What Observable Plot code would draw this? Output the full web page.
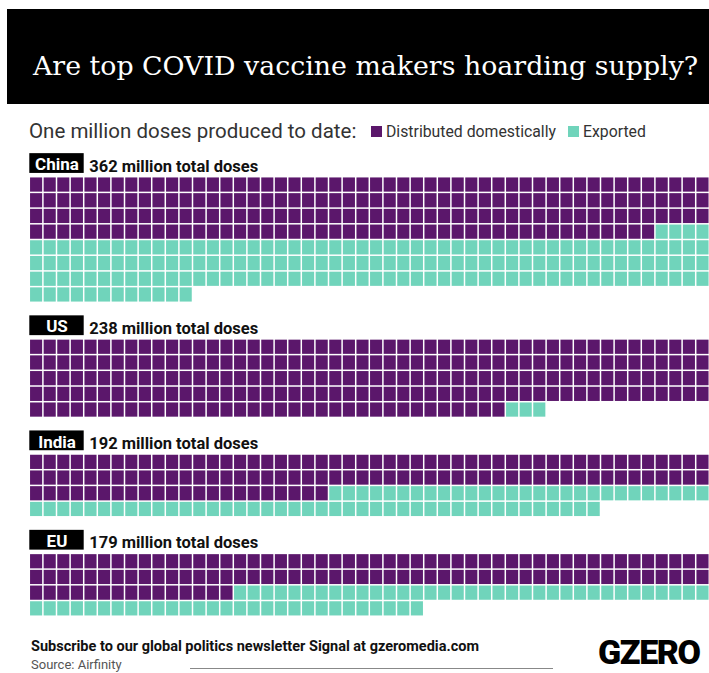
<!DOCTYPE html>
<html>
<head>
<meta charset="utf-8">
<script src="https://cdn.jsdelivr.net/npm/d3@7"></script>
<script src="https://cdn.jsdelivr.net/npm/@observablehq/plot@0.6"></script>
<style>
  html, body { margin: 0; padding: 0; background: #fff; }
  body { width: 709px; height: 673px; overflow: hidden; position: relative; font-family: Roboto, "Open Sans", sans-serif; }
  #header { position: absolute; left: 7px; top: 9px; width: 702px; height: 95px; background: #000; }
  #title { position: absolute; left: 26px; top: 41px; color: #fff; font-family: "DejaVu Serif", serif; font-size: 26.8px; line-height: normal; white-space: nowrap; }
  #subtitle { position: absolute; left: 29px; top: 118.5px; color: #333; font-size: 20.5px; line-height: normal; white-space: nowrap; }
  #legend { position: absolute; left: 371px; top: 115px; }
  #chart { position: absolute; left: 0; top: 150px; }
  #subscribe { position: absolute; left: 31px; top: 639px; font-size: 14.5px; font-weight: 700; color: #111; white-space: nowrap; line-height: 1.1; }
  #source { position: absolute; left: 31px; top: 657.5px; font-size: 13px; color: #555; white-space: nowrap; line-height: 1.1; }
  #rule { position: absolute; left: 190px; top: 668px; width: 363px; height: 0; border-top: 1px solid #888; }
  #logo { position: absolute; left: 598px; top: 638.5px; font-size: 34px; font-weight: 900; color: #000; letter-spacing: -1.4px; line-height: 0.8; white-space: nowrap; }
</style>
</head>
<body>
<div id="header"><div id="title">Are top COVID vaccine makers hoarding supply?</div></div>
<div id="subtitle">One million doses produced to date:</div>
<div id="legend"></div>
<div id="chart"></div>
<div id="subscribe">Subscribe to our global politics newsletter Signal at gzeromedia.com</div>
<div id="source">Source: Airfinity</div>
<div id="rule"></div>
<div id="logo">GZERO</div>
<script>
// ---- data (millions of doses; one square = one million doses) ----
const countries = ["China", "US", "India", "EU"];
const domestic = [196, 235, 122, 115];
const exported = [166, 3, 70, 64];
const totals = [362, 238, 192, 179];
const categories = ["Distributed domestically", "Exported"];
const colors = ["#5b176b", "#70d4bb"];

// ---- layout ----
const perRow = 50;
const gapRows = 2.33;

const cells = [];
const groups = [];
let offset = 0;
countries.forEach((c, i) => {
  const total = domestic[i] + exported[i];
  groups.push({country: c, total: totals[i], offset});
  for (let k = 0; k < total; k++) {
    cells.push({
      country: c,
      type: k < domestic[i] ? categories[0] : categories[1],
      col: k % perRow,
      row: offset + Math.floor(k / perRow)
    });
  }
  offset += Math.ceil(total / perRow) + gapRows;
});

const chart = Plot.plot({
  width: 709,
  height: 475,
  margin: 0,
  style: {fontFamily: "Roboto, sans-serif", background: "transparent"},
  x: {domain: [0, perRow], range: [29.3, 709.3], axis: null},
  y: {domain: [-1.7, 28.55], range: [0, 475], axis: null},
  color: {domain: categories, range: colors},
  marks: [
    Plot.rect(cells, {
      x1: "col", x2: d => d.col + 1,
      y1: "row", y2: d => d.row + 1,
      fill: "type", inset: 0.75
    }),
    Plot.rect(groups, {
      x1: 0, x2: 4,
      y1: d => d.offset - 1.5, y2: d => d.offset - 0.24,
      fill: "#000"
    }),
    Plot.text(groups, {
      x: 2, y: d => d.offset - 0.44,
      text: "country", fill: "#fff",
      fontWeight: 700, fontSize: 17, lineAnchor: "bottom", textAnchor: "middle"
    }),
    Plot.text(groups, {
      x: 4, dx: 5, y: d => d.offset - 0.36,
      text: d => `${d.total} million total doses`, fill: "#111",
      fontWeight: 700, fontSize: 16.5, lineAnchor: "bottom", textAnchor: "start"
    })
  ]
});
document.getElementById("chart").appendChild(chart);

const legend = Plot.legend({
  color: {domain: categories, range: colors, type: "ordinal"},
  legend: "swatches",
  swatchSize: 11,
  className: "lg",
  style: {fontFamily: "Roboto, sans-serif", fontSize: "15.8px", color: "#333", margin: "0"}
});
document.getElementById("legend").appendChild(legend);
// tighten swatch spacing to match the reference
legend.querySelectorAll("span, div").forEach(el => {
  if (el.querySelector && el.querySelector(":scope > svg")) {
    el.style.marginRight = "12px";
    el.querySelector(":scope > svg").style.marginRight = "4px";
  }
});
</script>
</body>
</html>
